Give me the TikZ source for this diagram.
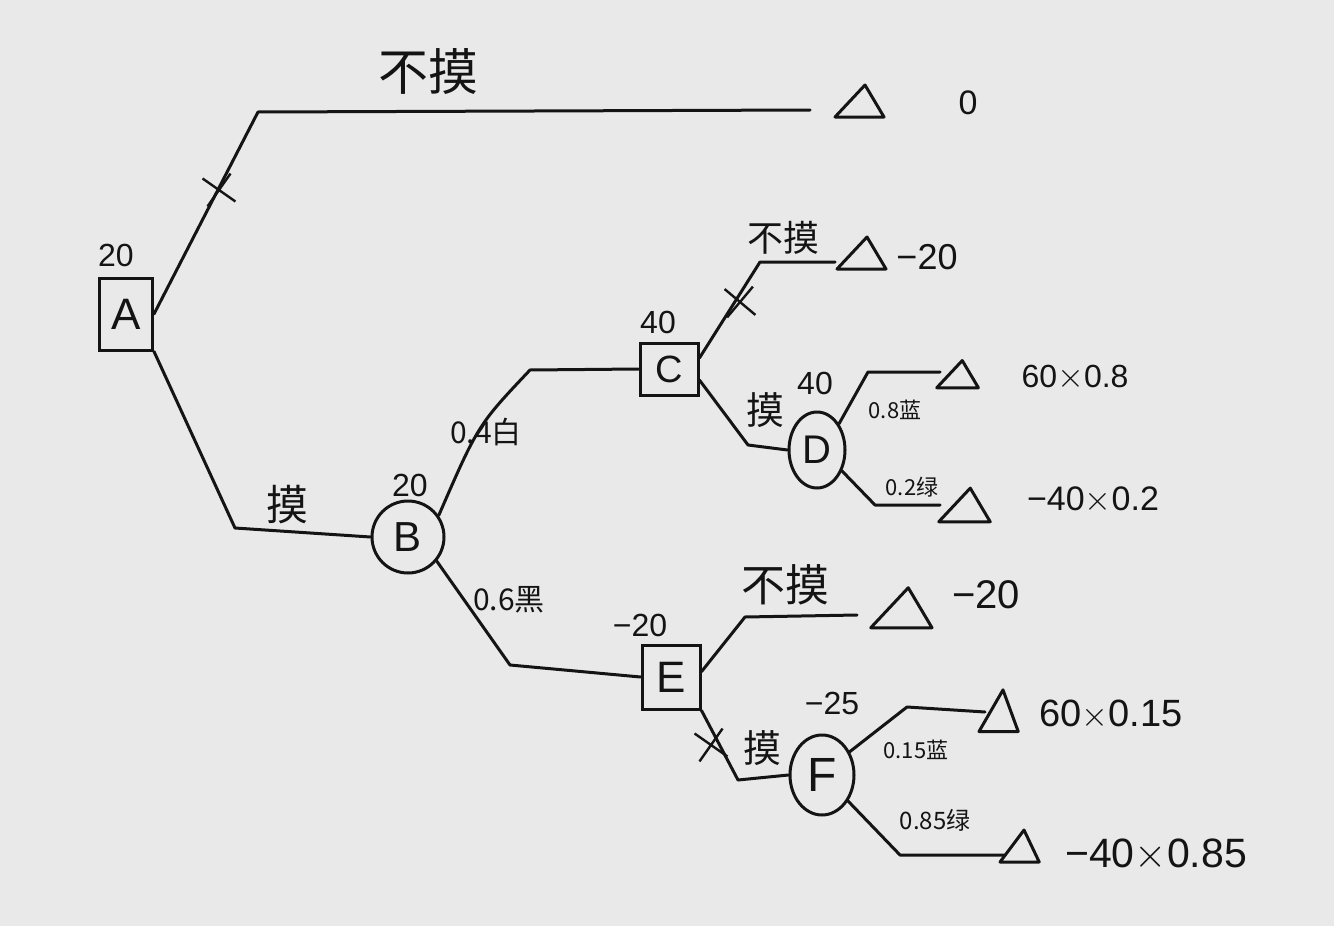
\documentclass[tikz,border=0pt]{standalone}
\usepackage{fontspec}
\setmainfont{Liberation Sans}
\newfontfamily\cjk{Noto Sans CJK SC}
\usetikzlibrary{shapes.geometric,shapes.misc}
\definecolor{paper}{RGB}{233,233,233}
\definecolor{ink}{RGB}{20,20,20}
\tikzset{
  ln/.style={draw=ink,line width=1.5pt,line join=round,line cap=round},
  dbox/.style={draw=ink,line width=1.5pt,inner sep=0pt,rectangle},
  chance/.style={draw=ink,line width=1.5pt,inner sep=0pt,ellipse},
  xmark/.style={draw=ink,cross out,line width=1.2pt,minimum size=13pt,inner sep=0pt},
  letter/.style={text=ink,font=\fontsize{#1}{#1}\selectfont},
  cn/.style={text=ink,font=\cjk\fontsize{#1}{#1}\selectfont,inner sep=0pt},
  val/.style={text=ink,font=\fontsize{#1}{#1}\selectfont,inner sep=0pt},
  prob/.style={text=ink,font=\fontsize{#1}{#1}\selectfont\cjk,inner sep=0pt},
  leaf/.pic={\draw[ln] (-25,15) -- (5,-17) -- (24,15) -- cycle;}
}
\begin{document}
\begin{tikzpicture}[x=0.5pt,y=-0.5pt]
\fill[paper] (0,0) rectangle (1334,926);
\useasboundingbox (0,0) rectangle (1334,926);

% decision and chance nodes
\node[dbox,minimum width=26.5pt,minimum height=36pt,letter=22] (A) at (126,314) {A};
\node[chance,minimum width=36pt,minimum height=36pt,letter=21] (B) at (408,537) {B};
\node[dbox,minimum width=29pt,minimum height=26pt,letter=19] (C) at (669,369) {C};
\node[chance,minimum width=28pt,minimum height=38pt,letter=20] (D) at (817,450) {D};
\node[dbox,minimum width=29pt,minimum height=32pt,letter=22] (E) at (671,677) {E};
\node[chance,minimum width=32pt,minimum height=40pt,letter=24] (F) at (822,775) {F};

% bend and end coordinates
\coordinate (a1) at (258,112); \coordinate (a2) at (810,110);
\coordinate (b1) at (235,528);
\coordinate (c1) at (530,370);
\coordinate (c2) at (760,262); \coordinate (c3) at (835,262);
\coordinate (d1) at (748,445);
\coordinate (d2) at (868,372); \coordinate (d3) at (940,372);
\coordinate (d4) at (875,505); \coordinate (d5) at (940,505);
\coordinate (e1) at (510,665);
\coordinate (e2) at (745,617); \coordinate (e3) at (857,615);
\coordinate (f1) at (738,780);
\coordinate (f2) at (907,707); \coordinate (f3) at (985,712);
\coordinate (f4) at (900,855); \coordinate (f5) at (1005,855);

% connectors
\draw[ln] (A.east) -- (a1) -- (a2);
\draw[ln] (A.south east) -- (b1) -- (B.west);
\draw[ln] (B.35) .. controls (478,425) .. (c1) -- (C.west);
\draw[ln] (B.-40) -- (e1) -- (E.west);
\draw[ln] (C.20) -- (c2) -- (c3);
\draw[ln] (C.-20) -- (d1) -- (D.west);
\draw[ln] (D.50) -- (d2) -- (d3);
\draw[ln] (D.-40) -- (d4) -- (d5);
\draw[ln] (E.10) -- (e2) -- (e3);
\draw[ln] (E.south east) -- (f1) -- (F.west);
\draw[ln] (F.40) -- (f2) -- (f3);
\draw[ln] (F.-45) -- (f4) -- (f5);

% cut marks
\node[xmark,rotate=10] (x1) at (219,190) {};
\node[xmark,rotate=5] (x2) at (740,302) {};
\node[xmark,rotate=10] (x3) at (711,745) {};

% terminal triangles
\pic (t1) at (860,102) {leaf};
\pic (t2) at (862,254) {leaf};
\pic[scale=0.85] (t3) at (958,375) {leaf};
\pic[scale=1.05] (t4) at (965,506) {leaf};
\pic[scale=1.25] (t5) at (902,609) {leaf};
\pic[xscale=0.8,yscale=1.3] (t6) at (999,712) {leaf};
\pic[xscale=0.8,yscale=1.0] (t7) at (1020,847) {leaf};

% branch labels
\node[cn=25] (l1) at (428,72) {不摸};
\node[cn=18] (l2) at (783,238) {不摸};
\node[cn=22] (l3) at (785,585) {不摸};
\node[cn=21] (l4) at (287,505) {摸};
\node[cn=19] (l5) at (765,410) {摸};
\node[cn=19] (l6) at (762,748) {摸};
\node[prob=15] (p1) at (486,432) {0.4白};
\node[prob=15] (p2) at (509,600) {0.6黑};
\node[prob=11] (p3) at (895,410) {0.8蓝};
\node[prob=11] (p4) at (912,487) {0.2绿};
\node[prob=11] (p5) at (916,750) {0.15蓝};
\node[prob=12] (p6) at (935,820) {0.85绿};

% node values
\node[val=16] (v1) at (116,255) {20};
\node[val=16] (v2) at (410,485) {20};
\node[val=16] (v3) at (658,322) {40};
\node[val=16] (v4) at (815,383) {40};
\node[val=16] (v5) at (640,625) {−20};
\node[val=16] (v6) at (832,703) {−25};

% payoffs
\node[val=17] (r1) at (968,103) {0};
\node[val=18] (r2) at (927,257) {−20};
\node[val=16] (r3) at (1075,378) {60$\times$0.8};
\node[val=17] (r4) at (1093,500) {−40$\times$0.2};
\node[val=20] (r5) at (986,595) {−20};
\node[val=19] (r6) at (1111,715) {60$\times$0.15};
\node[val=20.5] (r7) at (1156,855) {−40$\times$0.85};
\end{tikzpicture}
\end{document}
